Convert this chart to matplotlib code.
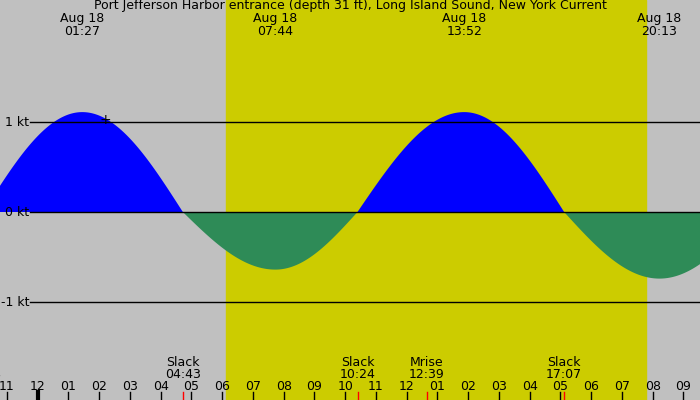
import numpy as np
import matplotlib.pyplot as plt

# tide current events (hours from midnight Aug 18, speed in kt)
event_hours = [-1.77, 1.45, 4.72, 7.73, 10.40, 13.87, 17.12, 20.22, 23.30]
event_speed = [0.0, 1.11, 0.0, -0.64, 0.0, 1.11, 0.0, -0.74, 0.0]

top_labels = ["Aug 18\n01:27", "Aug 18\n07:44", "Aug 18\n13:52", "Aug 18\n20:13"]
top_hours = [1.45, 7.73, 13.87, 20.22]

bottom_labels = ["Slack\n22:14", "Slack\n04:43", "Slack\n10:24", "Mrise\n12:39", "Slack\n17:07"]
bottom_hours = [-1.77, 4.72, 10.40, 12.65, 17.12]
red_ticks = [4.72, 10.40, 12.65, 17.12]

hour_ticks = list(range(-1, 22))
hour_labels = ["%02d" % (h % 12 if h % 12 else 12) for h in hour_ticks]

sunrise, sunset = 6.13, 19.78

fig = plt.figure(figsize=(7, 4), dpi=100)
ax = fig.add_axes([0, 0, 1, 1])
px0 = 37.7
pph = 30.75
ax.set_xlim(-px0 / pph, (700 - px0) / pph)
ax.set_ylim(-188 / 90, 212 / 90)
ax.axis("off")
ax.add_patch(plt.Rectangle((-5, -5), 40, 10, color="#c0c0c0", zorder=0))
ax.axvspan(sunrise, sunset, color="#cccc00", zorder=1)

# cosine shaped segments between successive events
t, v = [], []
for i in range(len(event_hours) - 1):
    h0, h1 = event_hours[i], event_hours[i + 1]
    s0, s1 = event_speed[i], event_speed[i + 1]
    tt = np.linspace(h0, h1, 60)
    if s0 == 0:
        vv = s1 * np.sin((tt - h0) / (h1 - h0) * np.pi / 2)
    else:
        vv = s0 * np.cos((tt - h0) / (h1 - h0) * np.pi / 2)
    t.extend(tt)
    v.extend(vv)
t = np.array(t)
v = np.array(v)
ax.fill_between(t, 0, v, where=v >= 0, color="#0000ff", zorder=2, linewidth=0)
ax.fill_between(t, 0, v, where=v <= 0, color="#2e8b57", zorder=2, linewidth=0)

xl = ax.get_xlim()
for k in [1, 0, -1]:
    ax.plot([(30 - px0) / pph, xl[1]], [k, k], color="black", lw=1, zorder=3)
    ax.text((29 - px0) / pph, k, "%d kt" % k, ha="right", va="center", fontsize=9, zorder=4)
ax.text((105 - px0) / pph, 1.02, "+", ha="center", va="center", fontsize=10, zorder=4)

ax.text(np.mean(xl), 2.3, "Port Jefferson Harbor entrance (depth 31 ft), Long Island Sound, New York Current",
        ha="center", va="center", fontsize=9)
for h, lab in zip(top_hours, top_labels):
    ax.text(h, 2.08, lab, ha="center", va="center", fontsize=9, linespacing=0.95)
for h, lab in zip(bottom_hours, bottom_labels):
    ax.text(h, -1.74, lab, ha="center", va="center", fontsize=9, linespacing=0.95)

for h, lab in zip(hour_ticks, hour_labels):
    ax.text(h, -1.94, lab, ha="center", va="center", fontsize=9)
    ax.plot([h, h], [-2.0, -2.09], color="black", lw=3 if h == 0 else 1, zorder=4)
for h in red_ticks:
    ax.plot([h, h], [-2.0, -2.09], color="red", lw=1, zorder=4)

fig.savefig("out.png", dpi=100)
